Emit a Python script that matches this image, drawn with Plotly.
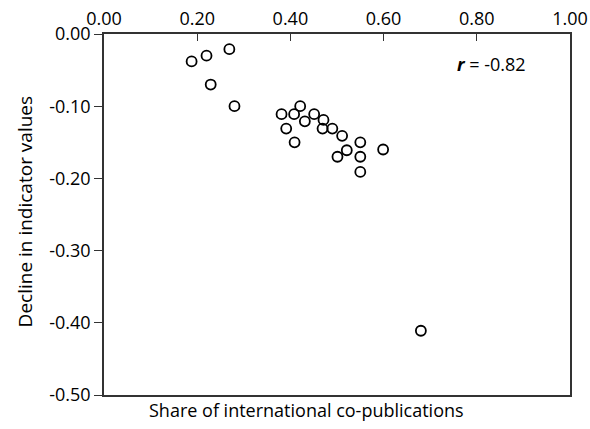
import plotly.graph_objects as go

share_intl = [0.188, 0.220, 0.269, 0.229, 0.280, 0.381, 0.421, 0.408, 0.451, 0.431,
              0.471, 0.391, 0.469, 0.490, 0.511, 0.409, 0.550, 0.521, 0.599, 0.501,
              0.550, 0.550, 0.680]
decline = [-0.038, -0.030, -0.021, -0.070, -0.100, -0.111, -0.100, -0.111, -0.111, -0.121,
           -0.119, -0.131, -0.131, -0.131, -0.141, -0.150, -0.150, -0.161, -0.160, -0.170,
           -0.170, -0.191, -0.411]

x_tick_vals = [0.0, 0.2, 0.4, 0.6, 0.8, 1.0]
x_tick_text = ["0.00", "0.20", "0.40", "0.60", "0.80", "1.00"]
y_tick_vals = [0.0, -0.1, -0.2, -0.3, -0.4, -0.5]
y_tick_text = ["0.00", "-0.10", "-0.20", "-0.30", "-0.40", "-0.50"]

FONT = "Open Sans"

fig = go.Figure()
fig.add_trace(go.Scatter(
    x=share_intl, y=decline, mode="markers",
    marker=dict(symbol="circle-open", size=10, color="black", line=dict(width=1.8)),
    showlegend=False, hoverinfo="x+y",
))

fig.update_layout(
    width=590, height=429,
    margin=dict(l=104, r=20, t=34, b=34),
    paper_bgcolor="white", plot_bgcolor="white",
    font=dict(family=FONT, size=18, color="black"),
    xaxis=dict(
        side="top", range=[0, 1], tickvals=x_tick_vals, ticktext=x_tick_text,
        ticks="inside", ticklen=7, tickwidth=1.2, tickcolor="#333",
        showline=True, linecolor="#333", linewidth=1.5, mirror=True,
        showgrid=False, zeroline=False, tickfont=dict(size=18), automargin=False,
    ),
    yaxis=dict(
        range=[-0.5, 0], tickvals=y_tick_vals, ticktext=y_tick_text,
        ticks="outside", ticklen=8, tickwidth=1.2, tickcolor="#333",
        showline=True, linecolor="#333", linewidth=1.5, mirror=True,
        showgrid=False, zeroline=False, tickfont=dict(size=18), automargin=False,
    ),
    annotations=[
        dict(text="Share of international co-publications", xref="paper", yref="paper",
             x=0.092, y=-0.042, xanchor="left", yanchor="middle", showarrow=False,
             font=dict(size=18)),
        dict(text="Decline in indicator values", xref="paper", yref="paper",
             x=-0.17, y=0.508, textangle=-90, xanchor="center", yanchor="middle",
             showarrow=False, font=dict(size=19)),
        dict(text="<b><i>r</i></b> = -0.82", xref="paper", yref="paper",
             x=0.753, y=0.917, xanchor="left", yanchor="middle", showarrow=False,
             font=dict(size=18)),
    ],
)

# remove the browser's default 8px page margin so the figure fills the 590x429 window
fig.write_html("out.html",
               config={"displayModeBar": False},
               post_script="document.body.style.margin='0';document.body.style.overflow='hidden';")
